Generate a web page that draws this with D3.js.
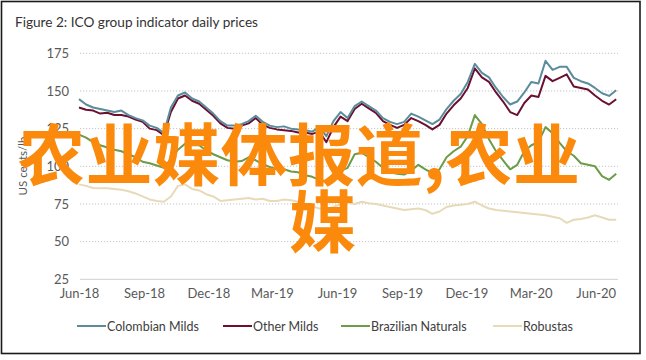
<!DOCTYPE html>
<html><head><meta charset="utf-8">
<script src="https://cdn.jsdelivr.net/npm/d3@7"></script>
<style>
html,body{margin:0;padding:0;background:#fff;}
svg text{font-family:Lato,"Open Sans",sans-serif;}
</style></head>
<body><svg id="c" width="646" height="360"></svg>
<script>
const title = "Figure 2: ICO group indicator daily prices";
const yLabel = "US cents/lb";
const startDate = "2018-06-01";
const stepDays = 10;
const yTicks = [25, 50, 75, 100, 125, 150, 175];
const xTickLabels = ["Jun-18","Sep-18","Dec-18","Mar-19","Jun-19","Sep-19","Dec-19","Mar-20","Jun-20"];
const seriesNames = ["Colombian Milds","Other Milds","Brazilian Naturals","Robustas"];
const seriesColors = ["#5b8c9c","#6b1030","#6c9b4a","#e6dab9"];
const colombianMilds = [144.6,141,139,138,137,136,137,134,132,130.5,127,125.5,122,139,147,149,145,143,139,135,130,127,127,128,130,133.5,129.5,127,126,126.5,125,124.5,124,123,126,120,130,136,132,140,143,140,137,132,129.5,128,129.5,135,133,130.5,128,131,138,143.5,148,156,168,162,159,152,146,141,143,149,156,155,170,164,166,166,158.7,156.5,155,152,148.5,146.7,150.5];
const otherMilds = [139,137.5,137,135,135.5,134,134,133,131,129.5,125,124,120.7,136,145,147,143.5,141.5,137.5,133.5,128.5,125.5,125,127,128.5,132,127.5,125.5,124.5,124,123.5,122.5,122.5,121.5,123,116,126,133,130,138,141.5,138.5,135.5,130,127.5,125.5,127.5,132,130,127.5,124.5,127.5,135,140.5,145,152,165,159,156,149,143,136,134,142,147,146,160,156.5,158.7,161,153,152,151,147,143.5,141,144.5];
const brazilianNaturals = [121,119,116,114,112.5,111,110,108,106,103,102,100.5,99,105,111,115,114,114,110.5,108,106,104,103,103.5,106,104,101.5,99.5,98,98,96.5,96,94,93,91,90,95,97,99,108,109,106,103,99,96,95,94.5,97,101,98,95.5,98,106,110,113,120,134,128,118,110,104,98,101,110,114,116,126,122,115.5,110,107,102,101,100,93.5,91,95];
const robustas = [88,87,85.6,85.5,85.5,85,84.5,83.4,82,80,78,77,76.5,80,87,88,85,84,81.5,80,77,77.5,78,78.5,79,78,78.5,77,77,78,77.5,76.5,75,73.5,72,71.5,73,75,76,75,76.5,75.5,75,74,73,72,71,71.5,72,71,68.5,70,73,74,74.5,75,76.5,74,72,71,70.5,70,69.5,69,68.5,68,67.5,66.5,65.5,62.5,64.5,65,66,67.5,66,64.5,64.5];
const watermarkLines = ["农业媒体报道,农业", "媒"];

const svg = d3.select("#c");
const parse = d3.utcParse("%Y-%m-%d");
const d0 = parse(startDate);
const allSeries = [colombianMilds, otherMilds, brazilianNaturals, robustas];
const dates = colombianMilds.map((_, i) => d3.utcDay.offset(d0, i * stepDays));

const x = d3.scaleUtc().domain([parse("2018-06-01"), parse("2020-06-01")]).range([79, 595.7]);
const y = d3.scaleLinear().domain([25, 175]).range([279.3, 53.3]);
const plotLeft = 80, plotRight = 618;

// frame
svg.append("rect").attr("x",1.5).attr("y",1.5).attr("width",638.5).attr("height",352)
  .attr("fill","#fff").attr("stroke","#1a1a1a").attr("stroke-width",1.6);

// title
svg.append("text").attr("x",15).attr("y",27).attr("font-size",14).attr("fill","#333")
  .attr("textLength",243).attr("lengthAdjust","spacingAndGlyphs").text(title);

// gridlines
svg.append("g").selectAll("line").data(yTicks.filter(v => v > 25)).join("line")
  .attr("x1",plotLeft).attr("x2",plotRight).attr("y1",d=>y(d)).attr("y2",d=>y(d))
  .attr("stroke","#c4c4c4").attr("stroke-width",1).attr("stroke-dasharray","1.2,1.8");
svg.append("line").attr("x1",plotLeft).attr("x2",plotRight).attr("y1",y(25)).attr("y2",y(25))
  .attr("stroke","#d9d9d9").attr("stroke-width",1.2);

// y axis
const yAxis = svg.append("g").attr("transform","translate(69,0)")
  .call(d3.axisLeft(y).tickValues(yTicks).tickSize(0).tickPadding(0));
yAxis.select(".domain").remove();
yAxis.selectAll("text").attr("font-size",13).attr("fill","#595959").attr("font-family","Lato,sans-serif");

// x axis
const xTickDates = xTickLabels.map((_, i) => d3.utcMonth.offset(parse("2018-06-01"), 3 * i));
const xAxis = svg.append("g").attr("transform","translate(0,289)")
  .call(d3.axisBottom(x).tickValues(xTickDates).tickSize(0).tickPadding(0)
    .tickFormat((d,i) => xTickLabels[i]));
xAxis.select(".domain").remove();
xAxis.selectAll("text").attr("font-size",13).attr("fill","#595959").attr("font-family","Lato,sans-serif");

// y label
svg.append("text").attr("transform","translate(27,166) rotate(-90)")
  .attr("text-anchor","middle").attr("font-size",11.5).attr("fill","#595959").text(yLabel);

// lines (draw robustas first)
const line = d3.line().x((d,i)=>x(dates[i])).y(d=>y(d));
[3,2,1,0].forEach(k => {
  svg.append("path").datum(allSeries[k]).attr("d", line)
    .attr("fill","none").attr("stroke",seriesColors[k]).attr("stroke-width",2)
    .attr("stroke-linejoin","round");
});

// legend
const legendX = [77, 223, 341, 493];
const lg = svg.append("g");
seriesNames.forEach((n,i) => {
  lg.append("line").attr("x1",legendX[i]).attr("x2",legendX[i]+29).attr("y1",326).attr("y2",326)
    .attr("stroke",seriesColors[i]).attr("stroke-width",2);
  lg.append("text").attr("x",legendX[i]+30).attr("y",330.5).attr("font-size",12.5).attr("fill","#404040").text(n);
});

// watermark overlay
const wm = svg.append("g").attr("fill","#fb8a0c").attr("font-weight","bold")
  .attr("font-size",67).style("font-family","'Noto Sans CJK SC',sans-serif");
wm.append("text").attr("x",18).attr("y",180).attr("textLength",562).attr("lengthAdjust","spacing")
  .style("font-family","'Noto Sans CJK SC',sans-serif").text(watermarkLines[0]);
wm.append("text").attr("x",289).attr("y",247).style("font-family","'Noto Sans CJK SC',sans-serif").text(watermarkLines[1]);
</script></body></html>
